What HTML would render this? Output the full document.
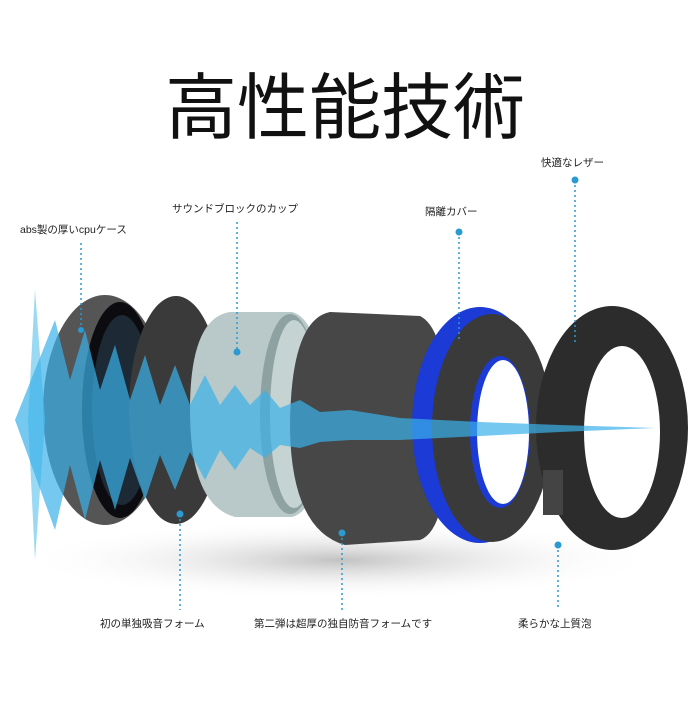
<!DOCTYPE html><html><head><meta charset="utf-8"><style>
body{margin:0;background:#fff;width:699px;height:699px;overflow:hidden;font-family:"Liberation Sans","Noto Sans CJK JP",sans-serif}
</style></head><body>
<svg width="699" height="699" viewBox="0 0 699 699" xmlns="http://www.w3.org/2000/svg">
<defs>
<radialGradient id="sh" cx="0.5" cy="0.5" r="0.5"><stop offset="0" stop-color="#999" stop-opacity="0.6"/><stop offset="1" stop-color="#fff" stop-opacity="0"/></radialGradient>
</defs>
<text x="345" y="133" font-size="72" text-anchor="middle" fill="#111" font-family="Noto Sans CJK JP,sans-serif">高性能技術</text>
<ellipse cx="340" cy="560" rx="320" ry="40" fill="url(#sh)"/>
<ellipse cx="105" cy="410" rx="62" ry="115" fill="#555"/>
<ellipse cx="120" cy="410" rx="38" ry="108" fill="#0c0c10"/>
<ellipse cx="122" cy="410" rx="30" ry="95" fill="#1d2a35"/>
<ellipse cx="176" cy="410" rx="47" ry="114" fill="#3a3a3a"/>
<path d="M230 312 L292 312 Q322 320 322 410 Q322 510 292 517 L235 517 Q190 505 190 410 Q190 318 230 312Z" fill="#b9c9c9"/>
<ellipse cx="290" cy="414" rx="30" ry="100" fill="#8fa2a2"/>
<ellipse cx="294" cy="414" rx="24" ry="94" fill="#c6d3d3"/>
<path d="M330 312 L420 316 Q448 330 448 430 Q448 530 420 540 L345 545 Q292 530 290 430 Q290 320 330 312Z" fill="#474747"/>
<ellipse cx="480" cy="425" rx="68" ry="118" fill="#1b3ad6"/>
<ellipse cx="492" cy="428" rx="60" ry="114" fill="#3a3a3a"/>
<ellipse cx="500" cy="432" rx="30" ry="76" fill="#1b3ad6"/>
<ellipse cx="503" cy="432" rx="26" ry="72" fill="#fff"/>
<ellipse cx="612" cy="428" rx="76" ry="122" fill="#2c2c2c"/>
<ellipse cx="622" cy="432" rx="38" ry="86" fill="#fff"/>
<rect x="543" y="470" width="20" height="45" fill="#444"/>
<polygon points="35,290 45,420 35,560 28,420" fill="#7fd0f0" opacity="0.8"/>
<polygon points="15,420 55,320 70,380 85,330 100,390 115,345 130,400 145,355 160,405 175,365 190,405 205,375 220,405 235,385 250,405 265,390 280,408 300,400 320,412 350,410 400,418 480,422 560,425 655,428 560,432 480,436 400,440 350,440 320,442 300,448 280,445 265,458 250,448 235,470 220,450 205,480 190,452 175,490 160,455 145,500 130,458 115,510 100,460 85,520 70,465 55,530" fill="#3ab0e8" opacity="0.7"/>
<g stroke="#2a9ad0" stroke-width="1.5" stroke-dasharray="2,3" fill="#2a9ad0">
<line x1="81" y1="243" x2="81" y2="330"/><circle cx="81" cy="330" r="3" stroke="none"/>
<line x1="237" y1="222" x2="237" y2="352"/><circle cx="237" cy="352" r="3.5" stroke="none"/>
<line x1="459" y1="232" x2="459" y2="340"/><circle cx="459" cy="232" r="3.5" stroke="none"/>
<line x1="575" y1="180" x2="575" y2="345"/><circle cx="575" cy="180" r="3.5" stroke="none"/>
<line x1="180" y1="514" x2="180" y2="610"/><circle cx="180" cy="514" r="3.5" stroke="none"/>
<line x1="342" y1="533" x2="342" y2="610"/><circle cx="342" cy="533" r="3.5" stroke="none"/>
<line x1="558" y1="545" x2="558" y2="610"/><circle cx="558" cy="545" r="3.5" stroke="none"/>
</g>
<g font-size="10.5" fill="#222">
<text x="20" y="233">abs製の厚いcpuケース</text>
<text x="172" y="212">サウンドブロックのカップ</text>
<text x="425" y="215">隔離カバー</text>
<text x="541" y="166">快適なレザー</text>
<text x="100" y="627">初の単独吸音フォーム</text>
<text x="254" y="627">第二弾は超厚の独自防音フォームです</text>
<text x="518" y="627">柔らかな上質泡</text>
</g>
</svg>
</body></html>
